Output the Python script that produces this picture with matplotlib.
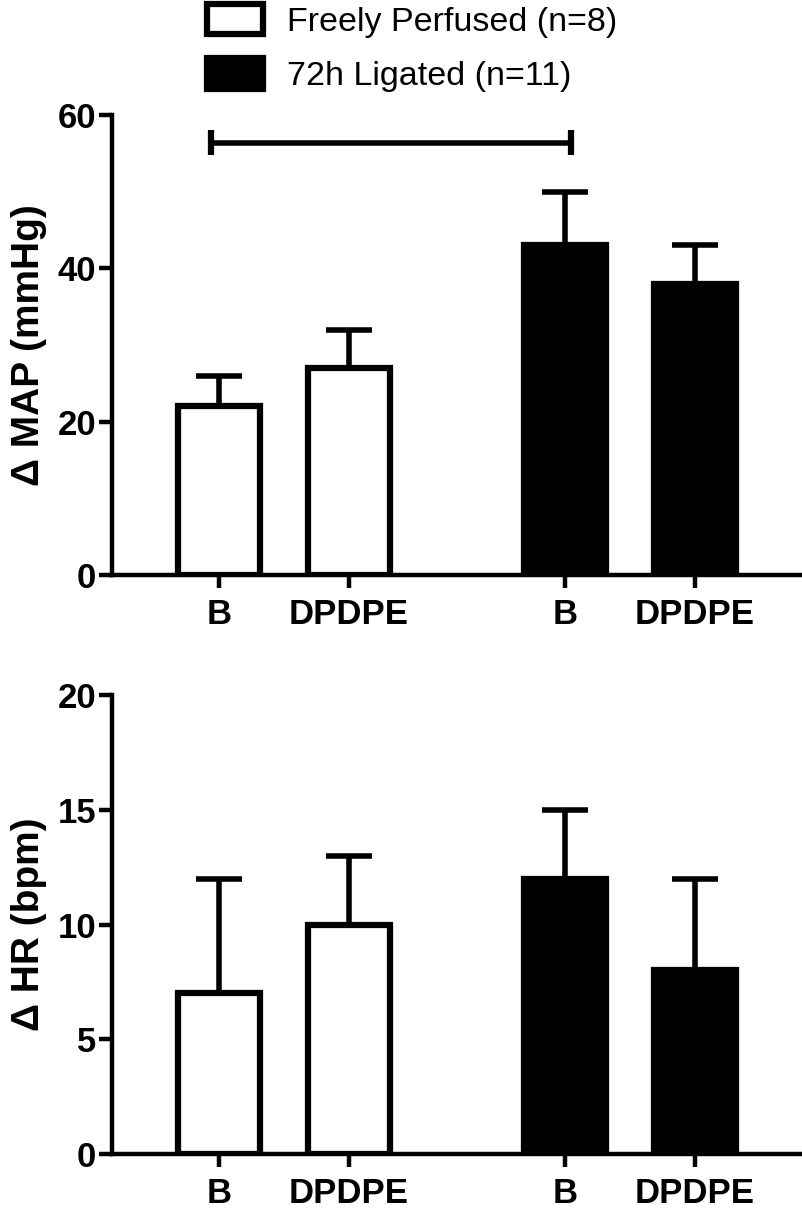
import numpy as np
import matplotlib.pyplot as plt
from matplotlib.patches import Patch

plt.rcParams['font.family'] = ['Liberation Sans', 'DejaVu Sans']

# Data
conditions = ["B", "DPDPE", "B", "DPDPE"]
x_pos = np.array([0, 1, 2.66, 3.66])
bar_colors = ["white", "white", "black", "black"]
groups = ["Freely Perfused (n=8)", "72h Ligated (n=11)"]

map_mean = [22, 27, 43, 38]
map_sem = [4, 5, 7, 5]
hr_mean = [7, 10, 12, 8]
hr_sem = [5, 3, 3, 4]

sig_y = 56.4  # bracket between B (freely perfused) and B (ligated)

W, H = 803, 1215
fig = plt.figure(figsize=(W / 100, H / 100), dpi=100)
ax1 = fig.add_axes([112 / W, 1 - 575 / H, 691 / W, 460 / H])
ax2 = fig.add_axes([112 / W, 1 - 1154 / H, 691 / W, 459 / H])


def draw_panel(ax, means, sems, ymax, yticks, ylabel):
    ax.errorbar(x_pos, means, yerr=[np.zeros(len(sems)), sems], fmt="none",
                ecolor="black", elinewidth=4, capsize=16.5, capthick=4, zorder=1)
    ax.bar(x_pos, means, width=0.63, color=bar_colors, edgecolor="black",
           linewidth=4.5, zorder=2)
    ax.set_xlim(-0.823, 4.49)
    ax.set_ylim(0, ymax)
    ax.set_yticks(yticks)
    ax.set_xticks(x_pos)
    ax.set_xticklabels(conditions)
    for s in ["top", "right"]:
        ax.spines[s].set_visible(False)
    for s in ["left", "bottom"]:
        ax.spines[s].set_linewidth(3.2)
    ax.spines["left"].set_bounds(0, ymax)
    ax.tick_params(axis="both", length=9.4, width=3.2, labelsize=25)
    ax.tick_params(axis="y", pad=2)
    ax.tick_params(axis="x", pad=7)
    for lab in ax.get_xticklabels() + ax.get_yticklabels():
        lab.set_fontweight("bold")
    ax.set_ylabel(ylabel, fontsize=28, fontweight="bold", va="center")
    ax.yaxis.set_label_coords(-0.12, 0.5)


draw_panel(ax1, map_mean, map_sem, 60, [0, 20, 40, 60], "Δ MAP (mmHg)")
draw_panel(ax2, hr_mean, hr_sem, 20, [0, 5, 10, 15, 20], "Δ HR (bpm)")

# significance bracket
x_left, x_right = x_pos[0] - 0.06, x_pos[2] + 0.05
ax1.plot([x_left, x_right], [sig_y, sig_y], color="black", lw=4, solid_capstyle="butt")
ax1.plot([x_left, x_left], [sig_y - 1.6, sig_y + 1.6], color="black", lw=4.5, solid_capstyle="butt")
ax1.plot([x_right, x_right], [sig_y - 1.6, sig_y + 1.6], color="black", lw=4.5, solid_capstyle="butt")

handles = [Patch(facecolor=c, edgecolor="black", linewidth=4.5, label=g)
           for c, g in zip(["white", "black"], groups)]
fig.legend(handles=handles, loc="upper left", bbox_to_anchor=(207 / W, 1 - 4 / H),
           frameon=False, fontsize=24.5, handlelength=1.65, handleheight=1.0,
           handletextpad=0.7, labelspacing=0.6, borderpad=0, borderaxespad=0)

fig.savefig("out.png", dpi=100)
